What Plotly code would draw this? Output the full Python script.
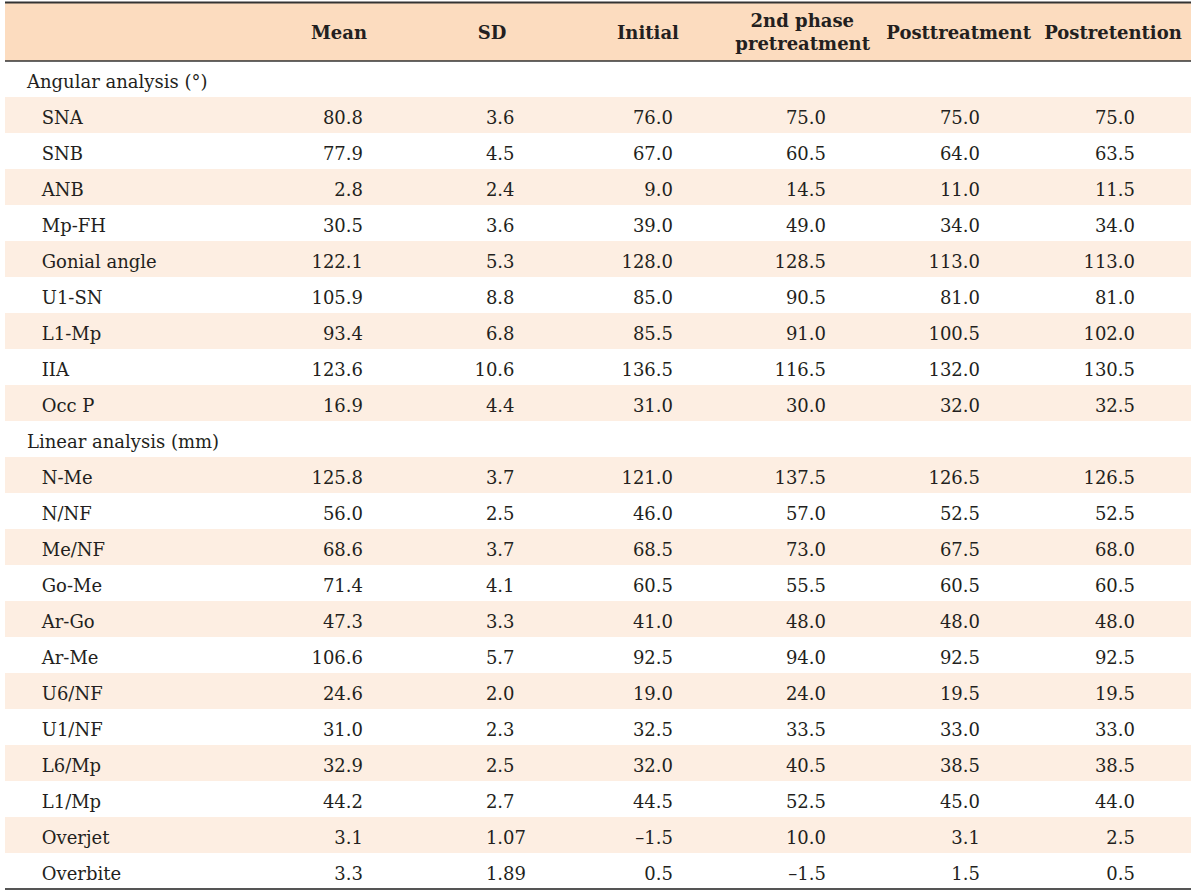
import plotly.graph_objects as go

# ---- data ----
headers = ["", "Mean", "SD", "Initial", "2nd phase<br>pretreatment", "Posttreatment", "Postretention"]
sections = ["Angular analysis (°)", "Linear analysis (mm)"]

angular_labels = ["SNA", "SNB", "ANB", "Mp-FH", "Gonial angle", "U1-SN", "L1-Mp", "IIA", "Occ P"]
angular_mean = [80.8, 77.9, 2.8, 30.5, 122.1, 105.9, 93.4, 123.6, 16.9]
angular_sd = [3.6, 4.5, 2.4, 3.6, 5.3, 8.8, 6.8, 10.6, 4.4]
angular_initial = [76.0, 67.0, 9.0, 39.0, 128.0, 85.0, 85.5, 136.5, 31.0]
angular_phase2 = [75.0, 60.5, 14.5, 49.0, 128.5, 90.5, 91.0, 116.5, 30.0]
angular_post = [75.0, 64.0, 11.0, 34.0, 113.0, 81.0, 100.5, 132.0, 32.0]
angular_retention = [75.0, 63.5, 11.5, 34.0, 113.0, 81.0, 102.0, 130.5, 32.5]

linear_labels = ["N-Me", "N/NF", "Me/NF", "Go-Me", "Ar-Go", "Ar-Me", "U6/NF", "U1/NF",
                 "L6/Mp", "L1/Mp", "Overjet", "Overbite"]
linear_mean = [125.8, 56.0, 68.6, 71.4, 47.3, 106.6, 24.6, 31.0, 32.9, 44.2, 3.1, 3.3]
linear_sd = [3.7, 2.5, 3.7, 4.1, 3.3, 5.7, 2.0, 2.3, 2.5, 2.7, 1.07, 1.89]
linear_initial = [121.0, 46.0, 68.5, 60.5, 41.0, 92.5, 19.0, 32.5, 32.0, 44.5, -1.5, 0.5]
linear_phase2 = [137.5, 57.0, 73.0, 55.5, 48.0, 94.0, 24.0, 33.5, 40.5, 52.5, 10.0, -1.5]
linear_post = [126.5, 52.5, 67.5, 60.5, 48.0, 92.5, 19.5, 33.0, 38.5, 45.0, 3.1, 1.5]
linear_retention = [126.5, 52.5, 68.0, 60.5, 48.0, 92.5, 19.5, 33.0, 38.5, 44.0, 2.5, 0.5]

# ---- styling ----
FONT = "DejaVu Serif"
TXT = "#231f20"
HEAD_FILL = "#fcdcbf"
STRIPE = "#fdeee2"
CLEAR = "rgba(0,0,0,0)"
W, H = 1200, 895
X0, X1 = 5, 1191
ROW_H = 36
TEXT_SHIFT = 5


def fmt(v):
    s = f"{v:.1f}"
    return s.replace("-", "\u2013")


def fmt_sd(v):
    if round(v, 1) != round(v, 2):
        return f"{v:.2f}"
    return f"{v:.1f}\u2007"  # figure space keeps decimals aligned


IND = "\u2002\u00a0"

col_label, col_mean, col_sd, col_ini, col_p2, col_post, col_ret, fills = [], [], [], [], [], [], [], []


def add_section(labels, mean, sd, ini, p2, post, ret):
    for i, lab in enumerate(labels):
        col_label.append(IND + lab)
        col_mean.append(fmt(mean[i]))
        col_sd.append(fmt_sd(sd[i]))
        col_ini.append(fmt(ini[i]))
        col_p2.append(fmt(p2[i]))
        col_post.append(fmt(post[i]))
        col_ret.append(fmt(ret[i]))
        fills.append(STRIPE if i % 2 == 0 else "white")


add_section(angular_labels, angular_mean, angular_sd, angular_initial,
            angular_phase2, angular_post, angular_retention)
# section row
col_label.append(sections[1])
for c in (col_mean, col_sd, col_ini, col_p2, col_post, col_ret):
    c.append("")
fills.append("white")
add_section(linear_labels, linear_mean, linear_sd, linear_initial,
            linear_phase2, linear_post, linear_retention)

n = len(col_label)
spacer = [""] * n

head_widths = [262, 144, 162, 150, 160, 152, 156]
body_widths = [14, 261, 91, 163, 147, 153, 154, 155, 48]
multi = ["\u2002\u00a0" + h if "<br>" in h else "" for h in headers]
single = ["" if "<br>" in h else h for h in headers]

fig = go.Figure()


def py(px):
    return 1 - px / H


# header table 1: fill + two-line heading
fig.add_trace(go.Table(
    domain=dict(x=[X0 / W, X1 / W], y=[py(64), py(2)]),
    columnwidth=head_widths,
    header=dict(
        values=[f"<b>{h}</b>" if h else "" for h in multi],
        align="center",
        fill=dict(color=HEAD_FILL),
        line=dict(width=0, color=HEAD_FILL),
        font=dict(family=FONT, size=18, color=TXT),
        height=59,
    ),
    cells=dict(values=[[""] for _ in headers], height=1,
               fill=dict(color=CLEAR), line=dict(width=0, color=CLEAR)),
))

# header table 2: single-line headings, vertically centred
fig.add_trace(go.Table(
    domain=dict(x=[X0 / W, X1 / W], y=[py(64), py(14)]),
    columnwidth=head_widths,
    header=dict(
        values=[f"<b>{h}</b>" if h else "" for h in single],
        align="center",
        fill=dict(color=CLEAR),
        line=dict(width=0, color=CLEAR),
        font=dict(family=FONT, size=18, color=TXT),
        height=44,
    ),
    cells=dict(values=[[""] for _ in headers], height=1,
               fill=dict(color=CLEAR), line=dict(width=0, color=CLEAR)),
))

# body stripes (fills only)
fig.add_trace(go.Table(
    domain=dict(x=[X0 / W, X1 / W], y=[0, py(61)]),
    columnwidth=body_widths,
    header=dict(
        values=[""] * len(body_widths),
        fill=dict(color="white"),
        line=dict(width=0, color="white"),
        height=ROW_H,
    ),
    cells=dict(
        values=[spacer] * len(body_widths),
        fill=dict(color=[fills] * len(body_widths)),
        line=dict(width=0, color=CLEAR),
        height=ROW_H,
    ),
))

# body text (transparent, nudged down to centre text in rows)
fig.add_trace(go.Table(
    domain=dict(x=[X0 / W, X1 / W], y=[0, py(61 + TEXT_SHIFT)]),
    columnwidth=body_widths,
    header=dict(
        values=["", sections[0], "", "", "", "", "", "", ""],
        align="left",
        fill=dict(color=CLEAR),
        line=dict(width=0, color=CLEAR),
        font=dict(family=FONT, size=18, color=TXT),
        height=ROW_H,
    ),
    cells=dict(
        values=[spacer, col_label, col_mean, col_sd, col_ini, col_p2, col_post, col_ret, spacer],
        align=["left", "left", "right", "right", "right", "right", "right", "right", "right"],
        fill=dict(color=CLEAR),
        line=dict(width=0, color=CLEAR),
        font=dict(family=FONT, size=18, color=TXT),
        height=ROW_H,
    ),
))

# horizontal rules
for ypx, wd, col in [(2.5, 2, "#333333"), (61, 1.6, "#333333"), (889, 2, "#555555")]:
    fig.add_shape(type="line", xref="paper", yref="paper",
                  x0=X0 / W, x1=X1 / W, y0=py(ypx), y1=py(ypx),
                  line=dict(color=col, width=wd))

fig.update_layout(
    width=W, height=H,
    margin=dict(l=0, r=0, t=0, b=0),
    paper_bgcolor="white", plot_bgcolor="white",
    showlegend=False,
)

fig.write_html("out.html", config={"displayModeBar": False},
               post_script="document.body.style.margin='0px';")
